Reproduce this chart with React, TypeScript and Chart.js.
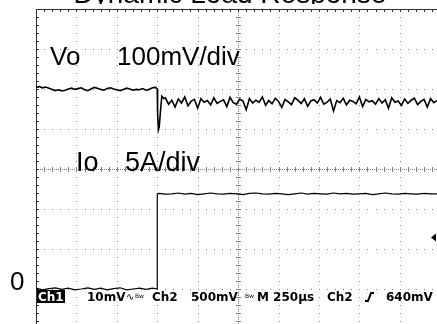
import { useEffect, useRef } from "react";
import { Chart, registerables } from "chart.js";

Chart.register(...registerables);

// ---- text ----
const TITLE = "Dynamic Load Response";
const VO_NAME = "Vo";
const VO_SCALE_TEXT = "100mV/div";
const IO_NAME = "Io";
const IO_SCALE_TEXT = "5A/div";
const ZERO_TEXT = "0";
const STATUS_CH1 = "Ch1";
const STATUS_CH1_SCALE = "10mV";
const STATUS_CH2 = "Ch2";
const STATUS_CH2_SCALE = "500mV";
const STATUS_BW = "Bw";
const STATUS_TIMEBASE = "M 250µs";
const STATUS_TRIG_SRC = "Ch2";
const STATUS_TRIG_LEVEL = "640mV";

// ---- scope settings ----
const TIME_PER_DIV = 250; // µs / div
const VO_PER_DIV = 100; // mV / div
const IO_PER_DIV = 5; // A / div
const TIME_MAX = 2480; // µs visible
const VO_OFFSET_DIV = 2; // Vo reference level, divisions above centre
const IO_OFFSET_DIV = -3; // Io ground, divisions below centre

// ---- Vo trace (mV deviation from pre-step level) ----
const VO_SAMPLE_US = 20;
// t = 0 .. 740 µs
const voPre = [
  4, 6, 3, 5, 2, -1, -4, -2, -5, -3, 0, 2, -1, 1, 3, -2, -4, 0, 4, 2, -1, -3, 1, 3, 0,
  -2, -4, -1, 2, 0, -3, -1, -2, 1, -3, -1, 3, 4,
];
// load step transient
const voStepTime = [750, 752, 757, 762, 770, 778, 790];
const voStepValues = [0, -60, -102, -95, -55, -18, -24];
// t = 800 .. 2480 µs
const VO_POST_START = 800;
const voPost = [
  -22, -38, -28, -45, -25, -35, -20, -42, -30, -26,
  -48, -24, -33, -29, -40, -22, -36, -31, -27, -44,
  -21, -34, -38, -25, -30, -52, -24, -35, -28, -33,
  -20, -41, -29, -37, -23, -31, -46, -26, -32, -39,
  -22, -28, -36, -24, -43, -30, -27, -35, -21, -38,
  -33, -25, -55, -29, -34, -23, -40, -28, -31, -37,
  -20, -44, -26, -32, -29, -38, -24, -35, -27, -48,
  -22, -33, -30, -41, -25, -36, -28, -23, -39, -31,
  -26, -45, -24, -34, -29,
];

// ---- Io trace (A) ----
const IO_SAMPLE_US = 40;
// t = 0 .. 720 µs
const ioPre = [0.1, -0.1, 0.05, 0.15, -0.05, 0.1, -0.1, 0, 0.15, -0.05, 0.1, -0.1, 0.05, 0.15, -0.1, 0, 0.1, -0.05, 0.1];
const ioStepTime = [750, 750];
const ioStepValues = [0, 11.9];
// t = 760 .. 2480 µs
const IO_POST_START = 760;
const ioPost = [
  11.95, 11.85, 11.9, 12.0, 11.85, 11.95, 11.8, 11.9, 12.0, 11.9,
  11.85, 11.95, 11.9, 11.8, 11.95, 12.0, 11.9, 11.85, 11.95, 11.9,
  11.8, 11.9, 12.0, 11.85, 11.95, 11.9, 11.85, 12.0, 11.9, 11.95,
  11.85, 11.9, 11.95, 11.8, 11.9, 12.0, 11.9, 11.85, 11.95, 11.9,
  11.85, 11.95, 11.9, 11.9,
];

type P = { x: number; y: number };
function buildSeries(start: number, step: number, values: number[]): P[] {
  return values.map((y, i) => ({ x: start + i * step, y }));
}
function pairs(xs: number[], ys: number[]): P[] {
  return xs.map((x, i) => ({ x, y: ys[i] }));
}

const voPoints: P[] = [
  ...buildSeries(0, VO_SAMPLE_US, voPre),
  ...pairs(voStepTime, voStepValues),
  ...buildSeries(VO_POST_START, VO_SAMPLE_US, voPost),
];
const ioPoints: P[] = [
  ...buildSeries(0, IO_SAMPLE_US, ioPre),
  ...pairs(ioStepTime, ioStepValues),
  ...buildSeries(IO_POST_START, IO_SAMPLE_US, ioPost),
];

const G_MIN = -3.875;
const G_MAX = 4;

const GRID_COLOR = "#808080";
const BORDER_COLOR = "#303030";
const SANS = '"Liberation Sans", Arial, sans-serif';
const STATUS_FONT = 'bold 12px "DejaVu Sans", sans-serif';

const graticule = {
  id: "graticule",
  beforeDatasetsDraw(chart: any) {
    const { ctx, chartArea: a, scales } = chart;
    const xs = scales.x;
    const gs = scales.g;
    const px = (d: number) => xs.getPixelForValue(d * TIME_PER_DIV);
    const py = (d: number) => gs.getPixelForValue(d);
    const xStep = (px(1) - px(0)) / 5;
    const yStep = (py(0) - py(1)) / 5;
    const dot = (x: number, y: number, w = 1, h = 1) =>
      ctx.fillRect(Math.round(x), Math.round(y), w, h);
    ctx.save();
    ctx.fillStyle = GRID_COLOR;
    for (let k = 1; k < 10; k++) {
      const x = px(k);
      if (x > a.right || k === 5) continue;
      for (let y = a.top; y <= a.bottom; y += yStep) dot(x, y);
    }
    for (let k = 3; k >= -3; k--) {
      if (k === 0) continue;
      const y = py(k);
      for (let x = a.left; x <= a.right; x += xStep) dot(x, y);
    }
    const cx = px(5);
    const cy = py(0);
    for (let y = a.top; y <= a.bottom; y += 2) dot(cx, y);
    for (let y = a.top; y <= a.bottom; y += yStep) dot(cx - 2, y, 5, 1);
    for (let x = a.left; x <= a.right; x += 2) dot(x, cy);
    for (let x = a.left; x <= a.right; x += xStep) dot(x, cy - 2, 1, 5);
    // border with inward ticks
    ctx.fillStyle = BORDER_COLOR;
    dot(a.left, a.top, a.right - a.left, 1);
    dot(a.left, a.top, 1, a.bottom - a.top);
    for (let x = a.left; x <= a.right; x += xStep) dot(x, a.top, 1, 3);
    for (let y = a.top; y <= a.bottom; y += yStep) dot(a.left, y, 3, 1);
    ctx.restore();
  },
  afterDatasetsDraw(chart: any) {
    const { ctx } = chart;
    ctx.save();
    ctx.fillStyle = "#000";
    ctx.textBaseline = "alphabetic";
    ctx.textAlign = "left";
    ctx.font = `26px ${SANS}`;
    ctx.fillText(VO_NAME, 50, 65);
    ctx.fillText(VO_SCALE_TEXT, 117, 65);
    ctx.font = `27px ${SANS}`;
    ctx.fillText(IO_NAME, 76, 171);
    ctx.fillText(IO_SCALE_TEXT, 125, 171);
    ctx.font = `26px ${SANS}`;
    ctx.fillText(ZERO_TEXT, 10, 290);

    // status line
    const by = 301;
    ctx.fillStyle = "#000";
    ctx.fillRect(37, 290, 28, 13);
    ctx.font = STATUS_FONT;
    ctx.fillStyle = "#fff";
    ctx.fillText(STATUS_CH1, 38, by);
    ctx.fillStyle = "#000";
    ctx.fillText(STATUS_CH1_SCALE, 87, by);
    ctx.font = '10px "DejaVu Sans", sans-serif';
    ctx.fillText("∿", 126, by - 1);
    ctx.font = '6px "DejaVu Sans", sans-serif';
    ctx.fillText(STATUS_BW, 135, by - 3);
    ctx.fillText(STATUS_BW, 245, by - 3);
    ctx.font = STATUS_FONT;
    ctx.fillText(STATUS_CH2, 152, by);
    ctx.fillText(STATUS_CH2_SCALE, 191, by);
    ctx.fillText(STATUS_TIMEBASE, 257, by);
    ctx.fillText(STATUS_TRIG_SRC, 327, by);
    ctx.fillText(STATUS_TRIG_LEVEL, 386, by);
    // rising edge trigger symbol
    ctx.strokeStyle = "#000";
    ctx.lineWidth = 2;
    ctx.beginPath();
    ctx.moveTo(365, by);
    ctx.lineTo(368, by);
    ctx.lineTo(371, by - 8);
    ctx.lineTo(374, by - 8);
    ctx.stroke();
    // channel marker on right edge
    ctx.beginPath();
    ctx.moveTo(431, 237.5);
    ctx.lineTo(436, 233.5);
    ctx.lineTo(436, 241.5);
    ctx.closePath();
    ctx.fill();

    // title (cropped at top of picture)
    ctx.save();
    ctx.beginPath();
    ctx.rect(0, 0, chart.width, 4);
    ctx.clip();
    ctx.font = `28px ${SANS}`;
    ctx.textAlign = "center";
    ctx.fillText(TITLE, 230, 3);
    ctx.restore();
    ctx.restore();
  },
};

export default function App() {
  const ref = useRef<HTMLCanvasElement>(null);
  useEffect(() => {
    document.body.style.margin = "0";
    const canvas = ref.current!;
    const chart = new Chart(canvas, {
      type: "line",
      data: {
        datasets: [
          {
            label: "Vo",
            data: voPoints,
            yAxisID: "yV",
            borderColor: "#000",
            borderWidth: 1.6,
            pointRadius: 0,
            tension: 0,
          },
          {
            label: "Io",
            data: ioPoints,
            yAxisID: "yI",
            borderColor: "#000",
            borderWidth: 1.2,
            pointRadius: 0,
            tension: 0,
          },
        ],
      },
      options: {
        animation: false,
        responsive: false,
        devicePixelRatio: 1,
        layout: { padding: { left: 36, top: 9, right: 0, bottom: 0 } },
        plugins: { legend: { display: false }, title: { display: false }, tooltip: { enabled: false } },
        scales: {
          x: { type: "linear", min: 0, max: TIME_MAX, display: false },
          yV: {
            type: "linear",
            axis: "y",
            min: VO_PER_DIV * (G_MIN - VO_OFFSET_DIV),
            max: VO_PER_DIV * (G_MAX - VO_OFFSET_DIV),
            display: false,
          },
          yI: {
            type: "linear",
            axis: "y",
            min: IO_PER_DIV * (G_MIN - IO_OFFSET_DIV),
            max: IO_PER_DIV * (G_MAX - IO_OFFSET_DIV),
            display: false,
          },
          g: { type: "linear", axis: "y", min: G_MIN, max: G_MAX, display: false },
        },
      } as any,
      plugins: [graticule],
    });
    return () => chart.destroy();
  }, []);
  return (
    <canvas
      ref={ref}
      width={437}
      height={324}
      style={{ display: "block", width: "437px", height: "324px" }}
    />
  );
}
